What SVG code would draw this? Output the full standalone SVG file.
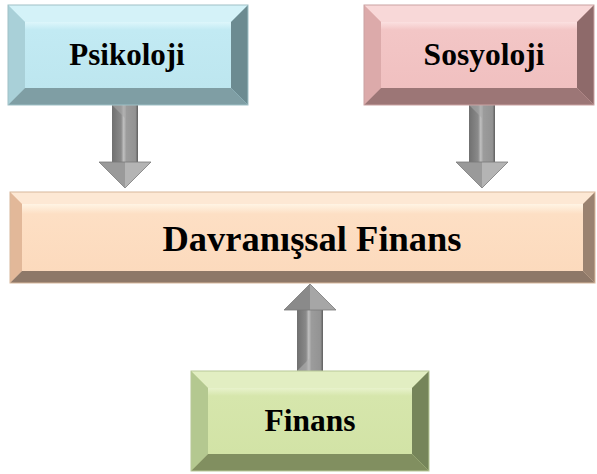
<svg xmlns="http://www.w3.org/2000/svg" width="597" height="474" viewBox="0 0 597 474">
<style>
text.lbl{font-weight:bold;fill:#000;text-anchor:middle}
</style>
<defs>
<linearGradient id="shaftV" x1="0" y1="0" x2="1" y2="0">
<stop offset="0" stop-color="#707070"/>
<stop offset="0.35" stop-color="#8a8a8a"/>
<stop offset="0.45" stop-color="#c0c0c0"/>
<stop offset="0.55" stop-color="#9c9c9c"/>
<stop offset="0.9" stop-color="#939393"/>
<stop offset="1" stop-color="#5e5e5e"/>
</linearGradient>
<linearGradient id="cyanFace" x1="0" y1="0" x2="0" y2="1">
<stop offset="0" stop-color="#ddf6fb"/><stop offset="0.12" stop-color="#c2eaf3"/><stop offset="1" stop-color="#bde6ef"/>
</linearGradient>
<linearGradient id="pinkFace" x1="0" y1="0" x2="0" y2="1">
<stop offset="0" stop-color="#fbe0e0"/><stop offset="0.12" stop-color="#f3c6c6"/><stop offset="1" stop-color="#f0c0c0"/>
</linearGradient>
<linearGradient id="peachFace" x1="0" y1="0" x2="0" y2="1">
<stop offset="0" stop-color="#fff4e4"/><stop offset="0.15" stop-color="#fddfc4"/><stop offset="1" stop-color="#fcdabd"/>
</linearGradient>
<linearGradient id="greenFace" x1="0" y1="0" x2="0" y2="1">
<stop offset="0" stop-color="#e8f2cc"/><stop offset="0.12" stop-color="#d6e6ac"/><stop offset="1" stop-color="#d2e3a6"/>
</linearGradient>
</defs>

<g id="connectors">
<g id="arrow-psikoloji">
<rect x="112" y="105" width="26" height="57" fill="url(#shaftV)"/>
<polygon points="112,105 125,105 125,118" fill="#a8a8a8" opacity="0.6"/>
<polygon points="99,162 125,162 125,188" fill="#9a9a9a"/>
<polygon points="125,162 151,162 125,188" fill="#b4b4b4"/>
<polygon points="99,162 151,162 125,188" fill="none" stroke="#7a7a7a" stroke-width="0.8"/>
</g>
<g id="arrow-sosyoloji">
<rect x="469" y="105" width="26" height="57" fill="url(#shaftV)"/>
<polygon points="469,105 482,105 482,118" fill="#a8a8a8" opacity="0.6"/>
<polygon points="456,162 482,162 482,188" fill="#9a9a9a"/>
<polygon points="482,162 508,162 482,188" fill="#b4b4b4"/>
<polygon points="456,162 508,162 482,188" fill="none" stroke="#7a7a7a" stroke-width="0.8"/>
</g>
<g id="arrow-finans">
<rect x="297" y="310" width="26" height="61" fill="url(#shaftV)"/>
<polygon points="297,371 310,371 310,358" fill="#b0b0b0" opacity="0.6"/>
<polygon points="284,310 310,310 310,284" fill="#8a8a8a"/>
<polygon points="310,310 336,310 310,284" fill="#a6a6a6"/>
<polygon points="284,310 336,310 310,284" fill="none" stroke="#7a7a7a" stroke-width="0.8"/>
</g>
</g>

<g id="psikoloji">
<rect x="8" y="5" width="240" height="100" fill="#bde6ef"/>
<polygon points="8,5 248,5 231,22 25,22" fill="#d4f2f8"/>
<polygon points="8,5 25,22 25,88 8,105" fill="#a9d0d8"/>
<polygon points="248,5 248,105 231,88 231,22" fill="#6c8b91"/>
<polygon points="8,105 25,88 231,88 248,105" fill="#7f9ea4"/>
<rect x="25" y="22" width="206" height="66" fill="url(#cyanFace)"/>
<rect x="8" y="5" width="240" height="100" fill="none" stroke="#9fc0c6" stroke-width="1"/>
<text class="lbl" font-family="Liberation Serif, DejaVu Serif, serif" x="127" y="65" font-size="31">Psikoloji</text>
</g>

<g id="sosyoloji">
<rect x="364" y="5" width="230" height="100" fill="#f0c0c0"/>
<polygon points="364,5 594,5 577,22 381,22" fill="#f8d8d8"/>
<polygon points="364,5 381,22 381,88 364,105" fill="#dcaaaa"/>
<polygon points="594,5 594,105 577,88 577,22" fill="#8e6a6a"/>
<polygon points="364,105 381,88 577,88 594,105" fill="#9c7676"/>
<rect x="381" y="22" width="196" height="66" fill="url(#pinkFace)"/>
<rect x="364" y="5" width="230" height="100" fill="none" stroke="#caa2a2" stroke-width="1"/>
<text class="lbl" font-family="Liberation Serif, DejaVu Serif, serif" x="484" y="65" font-size="31.5">Sosyoloji</text>
</g>

<g id="davranissal-finans">
<rect x="10" y="192" width="585" height="91" fill="#fcdabd"/>
<polygon points="10,192 595,192 583,204 22,204" fill="#fde8d4"/>
<polygon points="10,192 22,204 22,271 10,283" fill="#e2b899"/>
<polygon points="595,192 595,283 583,271 583,204" fill="#9a8270"/>
<polygon points="10,283 22,271 583,271 595,283" fill="#8e7868"/>
<rect x="22" y="204" width="561" height="67" fill="url(#peachFace)"/>
<rect x="10" y="192" width="585" height="91" fill="none" stroke="#d8b89c" stroke-width="1"/>
<text class="lbl" font-family="Liberation Serif, DejaVu Serif, serif" x="312" y="251" font-size="36.5">Davranışsal Finans</text>
</g>

<g id="finans">
<rect x="191" y="371" width="238" height="100" fill="#d2e3a6"/>
<polygon points="191,371 429,371 412,388 208,388" fill="#e2eec2"/>
<polygon points="191,371 208,388 208,454 191,471" fill="#b4c890"/>
<polygon points="429,371 429,471 412,454 412,388" fill="#76855a"/>
<polygon points="191,471 208,454 412,454 429,471" fill="#818f60"/>
<rect x="208" y="388" width="204" height="66" fill="url(#greenFace)"/>
<rect x="191" y="371" width="238" height="100" fill="none" stroke="#b8c898" stroke-width="1"/>
<text class="lbl" font-family="Liberation Serif, DejaVu Serif, serif" x="310" y="431" font-size="31.5">Finans</text>
</g>
</svg>
